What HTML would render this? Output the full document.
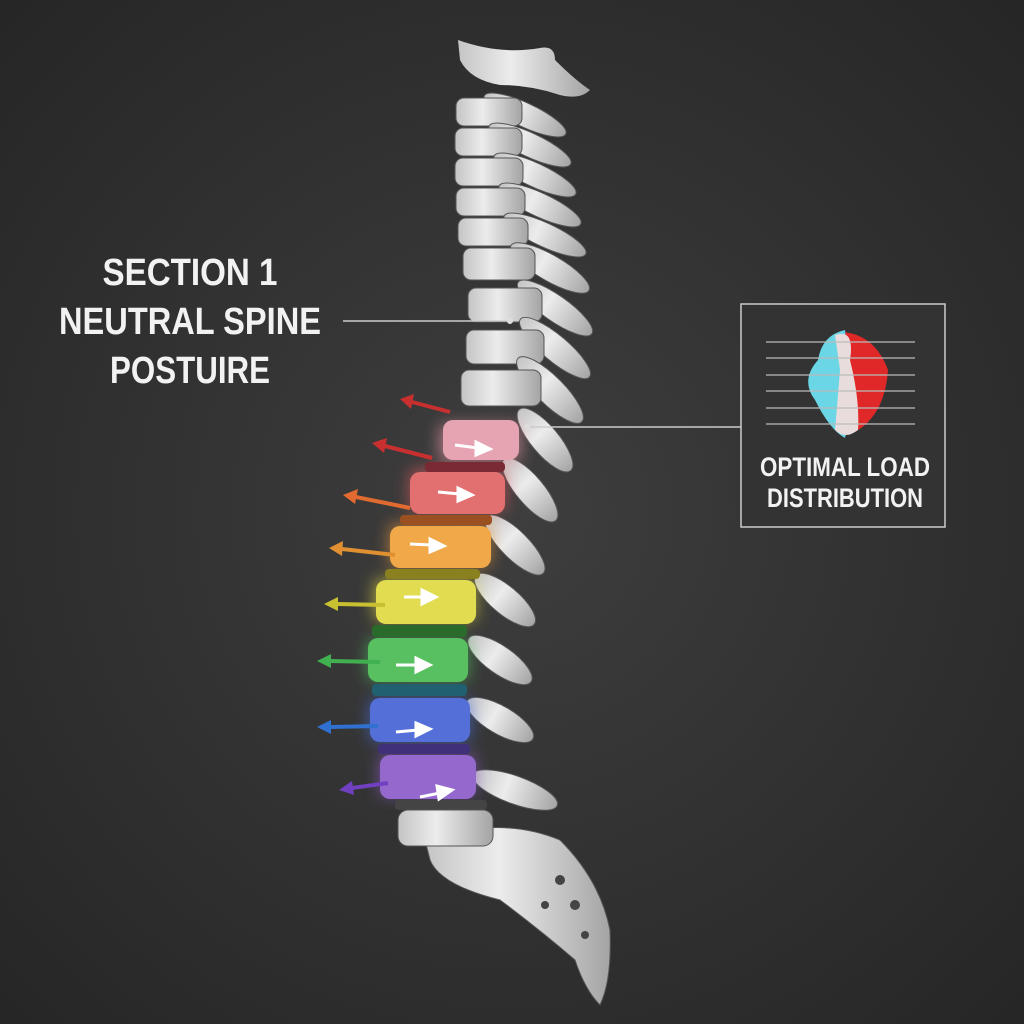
<!DOCTYPE html>
<html><head><style>
html,body{margin:0;padding:0;width:1024px;height:1024px;overflow:hidden;background:#333}
svg{display:block}
text{font-family:"Liberation Sans",sans-serif;font-weight:bold;fill:#f2f2f2}
</style></head><body>
<svg width="1024" height="1024" viewBox="0 0 1024 1024" xmlns="http://www.w3.org/2000/svg">
<defs>
<radialGradient id="bg" cx="50%" cy="50%" r="70%">
<stop offset="0" stop-color="#3e3e3e"/><stop offset="1" stop-color="#262626"/>
</radialGradient>
<linearGradient id="bone" x1="0" y1="0" x2="1" y2="0">
<stop offset="0" stop-color="#c4c4c4"/><stop offset="0.4" stop-color="#ececec"/><stop offset="1" stop-color="#a4a4a4"/>
</linearGradient>
<filter id="glow"><feGaussianBlur stdDeviation="8"/></filter>
</defs>
<rect width="1024" height="1024" fill="url(#bg)"/>

<path d="M458,40 Q500,55 540,48 Q555,45 555,60 Q575,80 590,90 Q580,100 560,95 Q530,85 500,85 Q470,80 460,60 Z" fill="url(#bone)"/>
<g fill="url(#bone)" stroke="#555" stroke-width="1">
<ellipse cx="525" cy="115" rx="45" ry="12" transform="rotate(25 525 115)"/>
<rect x="456" y="98" width="66" height="28" rx="8"/>
<ellipse cx="530" cy="145" rx="45" ry="12" transform="rotate(25 530 145)"/>
<rect x="455" y="128" width="67" height="28" rx="8"/>
<ellipse cx="535" cy="175" rx="45" ry="12" transform="rotate(25 535 175)"/>
<rect x="455" y="158" width="68" height="28" rx="8"/>
<ellipse cx="540" cy="205" rx="45" ry="12" transform="rotate(25 540 205)"/>
<rect x="456" y="188" width="69" height="28" rx="8"/>
<ellipse cx="545" cy="235" rx="45" ry="12" transform="rotate(25 545 235)"/>
<rect x="458" y="218" width="70" height="28" rx="8"/>
<ellipse cx="550" cy="268" rx="45" ry="13" transform="rotate(30 550 268)"/>
<rect x="463" y="248" width="72" height="32" rx="8"/>
<ellipse cx="555" cy="308" rx="45" ry="13" transform="rotate(35 555 308)"/>
<rect x="468" y="288" width="74" height="34" rx="8"/>
<ellipse cx="555" cy="348" rx="45" ry="13" transform="rotate(40 555 348)"/>
<rect x="466" y="330" width="78" height="34" rx="8"/>
<ellipse cx="550" cy="390" rx="45" ry="14" transform="rotate(45 550 390)"/>
<rect x="461" y="370" width="80" height="36" rx="8"/>
<ellipse cx="545" cy="440" rx="40" ry="14" transform="rotate(50 545 440)"/>
<ellipse cx="530" cy="490" rx="40" ry="14" transform="rotate(50 530 490)"/>
<ellipse cx="515" cy="545" rx="40" ry="14" transform="rotate(45 515 545)"/>
<ellipse cx="505" cy="600" rx="38" ry="14" transform="rotate(40 505 600)"/>
<ellipse cx="500" cy="660" rx="38" ry="14" transform="rotate(35 500 660)"/>
<ellipse cx="500" cy="720" rx="38" ry="14" transform="rotate(30 500 720)"/>
<ellipse cx="515" cy="790" rx="45" ry="14" transform="rotate(20 515 790)"/>
</g>
<path d="M425,840 Q500,815 560,840 Q600,880 610,930 Q612,980 600,1005 Q585,990 575,960 Q540,930 500,900 Q440,885 430,860 Z" fill="url(#bone)" stroke="#555"/>
<g fill="#444"><circle cx="560" cy="880" r="5"/><circle cx="575" cy="905" r="5"/><circle cx="585" cy="935" r="4"/><circle cx="545" cy="905" r="4"/></g>
<g filter="url(#glow)" opacity="0.7">
<rect x="440" y="425" width="80" height="35" fill="#e89aa8"/>
<rect x="410" y="470" width="95" height="40" fill="#e05a60"/>
<rect x="390" y="525" width="100" height="40" fill="#f09a40"/>
<rect x="375" y="580" width="100" height="40" fill="#e8e040"/>
<rect x="368" y="640" width="100" height="40" fill="#50c060"/>
<rect x="370" y="700" width="100" height="40" fill="#4a70e0"/>
<rect x="380" y="755" width="95" height="40" fill="#9060d0"/>
</g>
<g>
<rect x="443" y="420" width="76" height="40" rx="10" fill="#e6a4b2"/>
<rect x="425" y="462" width="80" height="10" rx="4" fill="#7a2a35"/>
<rect x="410" y="472" width="95" height="42" rx="10" fill="#e27070"/>
<rect x="400" y="515" width="92" height="10" rx="4" fill="#9a5020"/>
<rect x="390" y="526" width="101" height="42" rx="10" fill="#f0a848"/>
<rect x="385" y="569" width="95" height="10" rx="4" fill="#8a8020"/>
<rect x="376" y="580" width="100" height="44" rx="10" fill="#e2dc50"/>
<rect x="372" y="625" width="95" height="12" rx="4" fill="#2a6a2a"/>
<rect x="368" y="638" width="100" height="44" rx="10" fill="#58c060"/>
<rect x="372" y="684" width="95" height="12" rx="4" fill="#206070"/>
<rect x="370" y="698" width="100" height="44" rx="10" fill="#5470d8"/>
<rect x="378" y="744" width="92" height="10" rx="4" fill="#40307a"/>
<rect x="380" y="755" width="96" height="44" rx="10" fill="#9468cc"/>
<rect x="395" y="800" width="92" height="10" rx="4" fill="#444"/>
<rect x="398" y="810" width="95" height="36" rx="10" fill="url(#bone)" stroke="#555"/>
</g>
<g stroke="#fff" stroke-width="3" fill="#fff">
<line x1="455" y1="445" x2="478" y2="448"/><path d="M490,449 L476,442 L476,455 z"/>
<line x1="438" y1="492" x2="460" y2="494"/><path d="M472,495 L458,488 L458,501 z"/>
<line x1="410" y1="544" x2="432" y2="545"/><path d="M444,546 L430,539 L430,552 z"/>
<line x1="404" y1="597" x2="424" y2="597"/><path d="M436,597 L422,590 L422,604 z"/>
<line x1="396" y1="665" x2="418" y2="665"/><path d="M430,665 L416,658 L416,672 z"/>
<line x1="396" y1="732" x2="418" y2="730"/><path d="M430,729 L416,723 L416,736 z"/>
<line x1="420" y1="797" x2="440" y2="793"/><path d="M452,790 L437,786 L439,799 z"/>
</g>
<g stroke-width="4">
<line x1="450" y1="412" x2="412" y2="402" stroke="#c83030"/><path d="M400,399 L414,394 L411,409 z" fill="#c83030"/>
<line x1="432" y1="458" x2="385" y2="446" stroke="#c83030"/><path d="M372,443 L387,438 L384,453 z" fill="#c83030"/>
<line x1="410" y1="508" x2="356" y2="497" stroke="#e06a30"/><path d="M343,495 L358,489 L355,504 z" fill="#e06a30"/>
<line x1="395" y1="555" x2="342" y2="549" stroke="#e09030"/><path d="M329,548 L343,541 L342,556 z" fill="#e09030"/>
<line x1="385" y1="605" x2="337" y2="604" stroke="#c8c030"/><path d="M324,604 L338,597 L338,611 z" fill="#c8c030"/>
<line x1="380" y1="662" x2="330" y2="661" stroke="#40b050"/><path d="M317,661 L331,654 L331,668 z" fill="#40b050"/>
<line x1="378" y1="726" x2="330" y2="727" stroke="#3070d0"/><path d="M317,727 L331,720 L331,734 z" fill="#3070d0"/>
<line x1="388" y1="783" x2="352" y2="788" stroke="#7040c0"/><path d="M339,790 L352,781 L354,795 z" fill="#7040c0"/>
</g>
<text x="190" y="285" font-size="38" text-anchor="middle" textLength="175" lengthAdjust="spacingAndGlyphs">SECTION 1</text>
<text x="190" y="334" font-size="38" text-anchor="middle" textLength="262" lengthAdjust="spacingAndGlyphs">NEUTRAL SPINE</text>
<text x="190" y="383" font-size="38" text-anchor="middle" textLength="160" lengthAdjust="spacingAndGlyphs">POSTUIRE</text>
<line x1="343" y1="321" x2="508" y2="321" stroke="#ccc" stroke-width="1.5"/>
<circle cx="510" cy="321" r="3" fill="#ddd"/>
<line x1="527" y1="427" x2="741" y2="427" stroke="#ccc" stroke-width="1.5"/>
<circle cx="527" cy="427" r="3" fill="#ddd"/>
<rect x="741" y="304" width="204" height="223" fill="#333" stroke="#ccc" stroke-width="1.5"/>
<path d="M843,332 Q875,335 888,370 Q885,415 855,432 Q845,430 842,400 Z" fill="#e02828"/>
<path d="M845,330 Q822,335 818,360 Q800,380 815,400 Q830,430 845,438 L852,410 Q850,370 845,330 Z" fill="#6ad6e6"/>
<path d="M835,335 Q855,328 850,360 Q860,400 858,430 Q845,440 835,430 Q838,395 840,370 Z" fill="#e8dcdc"/>
<g stroke="#bbb" stroke-width="1.2">
<line x1="766" y1="342" x2="915" y2="342"/><line x1="766" y1="358" x2="915" y2="358"/>
<line x1="766" y1="375" x2="915" y2="375"/><line x1="766" y1="391" x2="915" y2="391"/>
<line x1="766" y1="408" x2="915" y2="408"/><line x1="766" y1="424" x2="915" y2="424"/>
</g>
<text x="845" y="476" font-size="27" text-anchor="middle" textLength="170" lengthAdjust="spacingAndGlyphs">OPTIMAL LOAD</text>
<text x="845" y="507" font-size="27" text-anchor="middle" textLength="156" lengthAdjust="spacingAndGlyphs">DISTRIBUTION</text>
</svg>
</body></html>
